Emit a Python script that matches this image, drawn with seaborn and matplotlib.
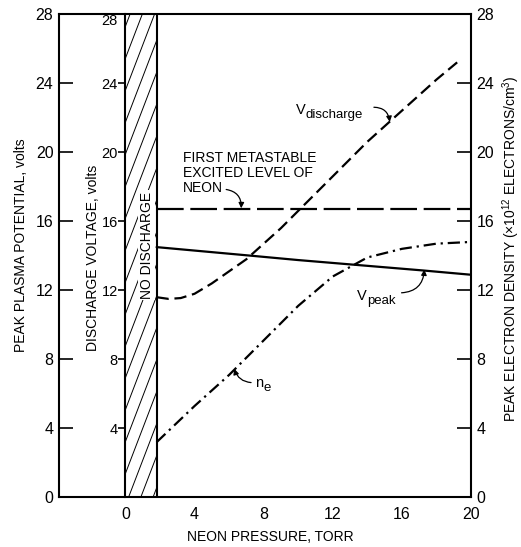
import numpy as np
import pandas as pd
import matplotlib
matplotlib.use("Agg")
import matplotlib.pyplot as plt
import seaborn as sns

# ---- data ----
press_vd = [1.8, 2.5, 3.2, 4, 5, 6, 7, 8, 9, 10, 11, 12, 13, 14, 15, 16, 17, 18, 19.2]
v_discharge = [11.6, 11.5, 11.55, 11.8, 12.4, 13.1, 13.8, 14.7, 15.6, 16.6, 17.6,
               18.6, 19.6, 20.6, 21.5, 22.4, 23.3, 24.2, 25.2]
press_vp = [1.8, 4, 7.3, 10, 13, 17.2, 20]
v_peak = [14.5, 14.3, 14.0, 13.75, 13.5, 13.15, 12.9]
press_ne = [1.8, 4, 6, 8, 10, 12, 14, 16, 18, 20]
n_e = [3.2, 5.3, 7.1, 9.1, 11.1, 12.8, 13.9, 14.4, 14.7, 14.8]
press_meta = [1.8, 20]
metastable = [16.7, 16.7]
no_discharge_edge = 1.8

x_ticks = [0, 4, 8, 12, 16, 20]
y_ticks = [0, 4, 8, 12, 16, 20, 24, 28]
inner_ticks = [4, 8, 12, 16, 20, 24, 28]

sns.set_style("white")
plt.rcParams['font.family'] = ['Liberation Sans', 'DejaVu Sans']
plt.rcParams['mathtext.default'] = 'regular'
for key in ['text.color', 'xtick.color', 'ytick.color', 'axes.labelcolor', 'axes.edgecolor']:
    plt.rcParams[key] = 'black'

fig = plt.figure(figsize=(5.21, 5.47), dpi=100)
ax = fig.add_axes([0.1132, 0.0905, 0.7908, 0.8839])
ax.set_xlim(-3.85, 20)
ax.set_ylim(0, 28)

lw = 1.6
sns.lineplot(x=press_vd, y=v_discharge, ax=ax, color='black', lw=lw,
             linestyle=(0, (5.5, 2.6)))
sns.lineplot(x=press_vp, y=v_peak, ax=ax, color='black', lw=lw)
sns.lineplot(x=press_ne, y=n_e, ax=ax, color='black', lw=lw,
             linestyle=(0, (5.5, 2.2, 1.0, 2.2)))
sns.lineplot(x=press_meta, y=metastable, ax=ax, color='black', lw=lw,
             linestyle=(0, (12, 3)))

# no-discharge hatched region
span = ax.axvspan(0, no_discharge_edge, facecolor='none', edgecolor='none')
ax.axvline(no_discharge_edge, color='black', lw=1.5)
rise = 4.7
step = 1.85
for b in np.arange(-6, 29, step):
    ln, = ax.plot([0, no_discharge_edge], [b, b + rise], color='black', lw=0.7)
    ln.set_clip_path(span)

ax.text(1.22, 14.6, "NO DISCHARGE", rotation=90, ha='center', va='center',
        fontsize=10, bbox=dict(facecolor='white', edgecolor='none', pad=1))

# axes styling
for s in ax.spines.values():
    s.set_visible(True)
    s.set_linewidth(1.5)
    s.set_color('black')
ax.set_xticks(x_ticks)
ax.set_yticks(y_ticks)
ax.tick_params(axis='x', direction='in', length=12, width=1.2, pad=7, labelsize=11.5,
               colors='black')
ax.tick_params(axis='y', direction='in', length=10, width=1.2, left=True, right=True,
               labelleft=True, labelright=True, pad=4, labelsize=11.5, colors='black')

# inner discharge-voltage axis at x = 0
sec = ax.secondary_yaxis(0, transform=ax.transData)
sec.set_yticks(inner_ticks)
sec.tick_params(direction='out', length=5, width=1.2, pad=0.5, labelsize=10.5,
                colors='black')
sec.spines['left'].set_linewidth(1.5)
sec.spines['left'].set_color('black')

ax.set_xlabel("")
ax.set_ylabel("")
ax.text(0.512, -0.082, "NEON PRESSURE, TORR", transform=ax.transAxes,
        ha='center', va='center', fontsize=10)
ax.text(-0.092, 0.522, "PEAK PLASMA POTENTIAL, volts", transform=ax.transAxes,
        rotation=90, ha='center', va='center', fontsize=10)
ax.text(-1.9, 13.9, "DISCHARGE VOLTAGE, volts", rotation=90, ha='center',
        va='center', fontsize=10)
ax.text(1.097, 0.514, "PEAK ELECTRON DENSITY (×10$^{12}$ ELECTRONS/cm$^{3}$)",
        transform=ax.transAxes, rotation=90, ha='center', va='center', fontsize=10)

# curve annotations
ax.text(3.35, 18.8, "FIRST METASTABLE\nEXCITED LEVEL OF\nNEON", ha='left',
        va='center', fontsize=10, linespacing=1.1)
arrow = dict(arrowstyle='-|>', color='black', lw=0.9, mutation_scale=8,
             shrinkA=1, shrinkB=0)
ax.annotate("", xy=(6.7, 16.75), xytext=(5.75, 17.85),
            arrowprops=dict(arrow, connectionstyle='arc3,rad=-0.45'))


def sub_label(x, y, main, sub):
    ax.text(x, y, main, ha='left', va='baseline', fontsize=10.5)
    ax.annotate(sub, xy=(x, y), xytext=(7.2 if main == 'V' else 6.2, -3),
                textcoords='offset points', ha='left', va='baseline', fontsize=9.5)


sub_label(9.85, 22.2, "V", "discharge")
ax.annotate("", xy=(15.3, 21.75), xytext=(14.3, 22.6),
            arrowprops=dict(arrow, connectionstyle='arc3,rad=-0.45'))

sub_label(13.4, 11.45, "V", "peak")
ax.annotate("", xy=(17.3, 13.2), xytext=(15.9, 11.85),
            arrowprops=dict(arrow, connectionstyle='arc3,rad=0.45'))

sub_label(7.5, 6.4, "n", "e")
ax.annotate("", xy=(6.3, 7.45), xytext=(7.35, 6.65),
            arrowprops=dict(arrow, connectionstyle='arc3,rad=-0.35'))

fig.canvas.draw()
top_tick = sec.yaxis.get_major_ticks()[-1]
top_tick.label1.set_verticalalignment('top')

fig.savefig("out.png", dpi=100)
